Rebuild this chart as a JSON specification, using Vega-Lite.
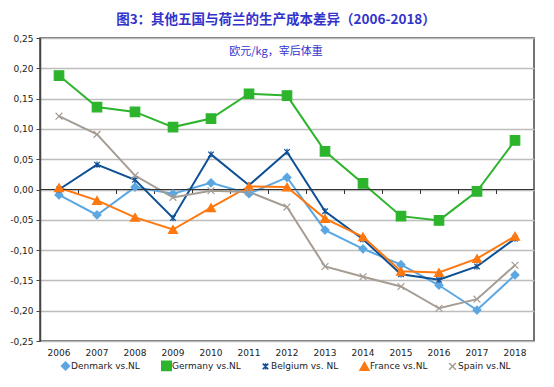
{
  "$schema": "https://vega.github.io/schema/vega-lite/v6.json",
  "autosize": {"type": "none"},
  "padding": {"left": 40, "top": 38, "right": 20, "bottom": 46},
  "width": 494,
  "height": 303,
  "background": "white",
  "title": {
    "text": "图3：其他五国与荷兰的生产成本差异（2006-2018）",
    "subtitle": "欧元/kg，宰后体重　　",
    "frame": "group",
    "anchor": "middle",
    "dx": -11,
    "offset": -23,
    "font": "Noto Sans CJK SC",
    "fontSize": 13.5,
    "fontWeight": "bold",
    "color": "#3333CC",
    "subtitleFont": "Noto Sans CJK SC",
    "subtitleFontSize": 11,
    "subtitleColor": "#3333CC",
    "subtitlePadding": 20
  },
  "data": {
    "values": [
      {"year": "2006", "series": "Denmark vs.NL", "v": -0.009},
      {"year": "2007", "series": "Denmark vs.NL", "v": -0.042},
      {"year": "2008", "series": "Denmark vs.NL", "v": 0.004},
      {"year": "2009", "series": "Denmark vs.NL", "v": -0.007},
      {"year": "2010", "series": "Denmark vs.NL", "v": 0.011},
      {"year": "2011", "series": "Denmark vs.NL", "v": -0.007},
      {"year": "2012", "series": "Denmark vs.NL", "v": 0.020},
      {"year": "2013", "series": "Denmark vs.NL", "v": -0.067},
      {"year": "2014", "series": "Denmark vs.NL", "v": -0.098},
      {"year": "2015", "series": "Denmark vs.NL", "v": -0.124},
      {"year": "2016", "series": "Denmark vs.NL", "v": -0.158},
      {"year": "2017", "series": "Denmark vs.NL", "v": -0.199},
      {"year": "2018", "series": "Denmark vs.NL", "v": -0.141},
      {"year": "2006", "series": "Germany vs.NL", "v": 0.188},
      {"year": "2007", "series": "Germany vs.NL", "v": 0.136},
      {"year": "2008", "series": "Germany vs.NL", "v": 0.128},
      {"year": "2009", "series": "Germany vs.NL", "v": 0.103},
      {"year": "2010", "series": "Germany vs.NL", "v": 0.117},
      {"year": "2011", "series": "Germany vs.NL", "v": 0.158},
      {"year": "2012", "series": "Germany vs.NL", "v": 0.155},
      {"year": "2013", "series": "Germany vs.NL", "v": 0.063},
      {"year": "2014", "series": "Germany vs.NL", "v": 0.010},
      {"year": "2015", "series": "Germany vs.NL", "v": -0.044},
      {"year": "2016", "series": "Germany vs.NL", "v": -0.051},
      {"year": "2017", "series": "Germany vs.NL", "v": -0.003},
      {"year": "2018", "series": "Germany vs.NL", "v": 0.081},
      {"year": "2006", "series": "Belgium vs. NL", "v": 0.000},
      {"year": "2007", "series": "Belgium vs. NL", "v": 0.041},
      {"year": "2008", "series": "Belgium vs. NL", "v": 0.016},
      {"year": "2009", "series": "Belgium vs. NL", "v": -0.047},
      {"year": "2010", "series": "Belgium vs. NL", "v": 0.058},
      {"year": "2011", "series": "Belgium vs. NL", "v": 0.007},
      {"year": "2012", "series": "Belgium vs. NL", "v": 0.062},
      {"year": "2013", "series": "Belgium vs. NL", "v": -0.036},
      {"year": "2014", "series": "Belgium vs. NL", "v": -0.082},
      {"year": "2015", "series": "Belgium vs. NL", "v": -0.140},
      {"year": "2016", "series": "Belgium vs. NL", "v": -0.149},
      {"year": "2017", "series": "Belgium vs. NL", "v": -0.127},
      {"year": "2018", "series": "Belgium vs. NL", "v": -0.081},
      {"year": "2006", "series": "France vs.NL", "v": 0.003},
      {"year": "2007", "series": "France vs.NL", "v": -0.018},
      {"year": "2008", "series": "France vs.NL", "v": -0.046},
      {"year": "2009", "series": "France vs.NL", "v": -0.066},
      {"year": "2010", "series": "France vs.NL", "v": -0.030},
      {"year": "2011", "series": "France vs.NL", "v": 0.005},
      {"year": "2012", "series": "France vs.NL", "v": 0.004},
      {"year": "2013", "series": "France vs.NL", "v": -0.048},
      {"year": "2014", "series": "France vs.NL", "v": -0.078},
      {"year": "2015", "series": "France vs.NL", "v": -0.135},
      {"year": "2016", "series": "France vs.NL", "v": -0.137},
      {"year": "2017", "series": "France vs.NL", "v": -0.114},
      {"year": "2018", "series": "France vs.NL", "v": -0.077},
      {"year": "2006", "series": "Spain vs.NL", "v": 0.121},
      {"year": "2007", "series": "Spain vs.NL", "v": 0.091},
      {"year": "2008", "series": "Spain vs.NL", "v": 0.023},
      {"year": "2009", "series": "Spain vs.NL", "v": -0.013},
      {"year": "2010", "series": "Spain vs.NL", "v": -0.002},
      {"year": "2011", "series": "Spain vs.NL", "v": -0.004},
      {"year": "2012", "series": "Spain vs.NL", "v": -0.029},
      {"year": "2013", "series": "Spain vs.NL", "v": -0.127},
      {"year": "2014", "series": "Spain vs.NL", "v": -0.144},
      {"year": "2015", "series": "Spain vs.NL", "v": -0.160},
      {"year": "2016", "series": "Spain vs.NL", "v": -0.196},
      {"year": "2017", "series": "Spain vs.NL", "v": -0.181},
      {"year": "2018", "series": "Spain vs.NL", "v": -0.125}
    ]
  },
  "layer": [
    {
      "mark": {"type": "line", "strokeWidth": 2},
      "encoding": {
        "x": {
          "field": "year", "type": "ordinal",
          "scale": {"type": "band", "paddingInner": 0, "paddingOuter": 0},
          "axis": {"orient": "bottom", "domain": false, "ticks": false, "labelPadding": 7, "labelAngle": 0, "title": null, "grid": false}
        },
        "y": {
          "field": "v", "type": "quantitative",
          "scale": {"domain": [-0.25, 0.25], "nice": false, "zero": false},
          "axis": {
            "values": [-0.25, -0.2, -0.15, -0.1, -0.05, 0, 0.05, 0.1, 0.15, 0.2, 0.25],
            "tickCount": 20,
            "labelOverlap": false,
            "labelExpr": "replace(replace(format(datum.value, '.2f'), '.', ','), '−', '-')",
            "grid": true, "gridColor": "#BDBDBD", "gridWidth": 1.5,
            "domainColor": "#444444", "domainWidth": 1.5,
            "tickColor": "#444444", "tickSize": 4, "labelPadding": 3, "title": null
          }
        },
        "color": {
          "field": "series", "type": "nominal",
          "scale": {
            "domain": ["Denmark vs.NL", "Germany vs.NL", "Belgium vs. NL", "France vs.NL", "Spain vs.NL"],
            "range": ["#5BA7E2", "#2DB42D", "#0D5096", "#FF780F", "#A59C94"]
          },
          "legend": {
            "orient": "none", "legendX": 20, "legendY": 322,
            "direction": "horizontal", "columns": 5, "title": null,
            "labelOffset": 0, "columnPadding": 18, "symbolSize": 256,
            "encode": {
              "symbols": {
                "update": {
                  "shape": {"signal": "datum.value === 'Denmark vs.NL' ? 'M-1,0H1M0,-0.4L0.4,0L0,0.4L-0.4,0Z' : datum.value === 'Germany vs.NL' ? 'M-1,0H1M-0.35,-0.35H0.35V0.35H-0.35Z' : datum.value === 'Belgium vs. NL' ? 'M-1,0H1M-0.3,-0.3L0.3,0.3M-0.3,0.3L0.3,-0.3M0,-0.35V0.35' : datum.value === 'France vs.NL' ? 'M-1,0H1M0,-0.42L0.42,0.32H-0.42Z' : 'M-1,0H1M-0.32,-0.32L0.32,0.32M-0.32,0.32L0.32,-0.32'"},
                  "fill": {"signal": "scale('color', datum.value)"},
                  "stroke": {"signal": "scale('color', datum.value)"},
                  "strokeWidth": {"value": 1.5},
                  "size": {"value": 256}
                }
              }
            }
          }
        }
      }
    },
    {
      "mark": {"type": "rule", "color": "#333333", "strokeWidth": 1},
      "encoding": {"y": {"datum": 0}}
    },
    {
      "mark": {"type": "point", "filled": true, "opacity": 1, "strokeWidth": 1.2},
      "encoding": {
        "x": {
          "field": "year", "type": "ordinal",
          "scale": {"type": "band", "paddingInner": 0, "paddingOuter": 0},
          "axis": {"orient": "top", "offset": -151.5, "labels": false, "domain": false, "ticks": true, "tickColor": "#333333", "tickSize": -4, "bandPosition": 0, "title": null, "grid": false}
        },
        "y": {"field": "v", "type": "quantitative"},
        "fill": {
          "field": "series", "type": "nominal",
          "scale": {
            "domain": ["Denmark vs.NL", "Germany vs.NL", "Belgium vs. NL", "France vs.NL", "Spain vs.NL"],
            "range": ["#5BA7E2", "#2DB42D", "#0D5096", "#FF780F", "#A59C94"]
          },
          "legend": null
        },
        "stroke": {
          "field": "series", "type": "nominal",
          "scale": {
            "domain": ["Denmark vs.NL", "Germany vs.NL", "Belgium vs. NL", "France vs.NL", "Spain vs.NL"],
            "range": ["#5BA7E2", "#2DB42D", "#0D5096", "#FF780F", "#A59C94"]
          },
          "legend": null
        },
        "shape": {
          "field": "series", "type": "nominal",
          "scale": {
            "domain": ["Denmark vs.NL", "Germany vs.NL", "Belgium vs. NL", "France vs.NL", "Spain vs.NL"],
            "range": ["diamond", "square", "M-0.7,-0.7L0.7,0.7M-0.7,0.7L0.7,-0.7M0,-0.8V0.8", "triangle-up", "M-0.8,-0.8L0.8,0.8M-0.8,0.8L0.8,-0.8"]
          },
          "legend": null
        },
        "size": {
          "field": "series", "type": "nominal",
          "scale": {
            "type": "ordinal",
            "domain": ["Denmark vs.NL", "Germany vs.NL", "Belgium vs. NL", "France vs.NL", "Spain vs.NL"],
            "range": [64, 90, 64, 80, 72]
          },
          "legend": null
        }
      }
    }
  ],
  "resolve": {"scale": {"x": "independent"}, "axis": {"x": "independent"}},
  "config": {
    "view": {"stroke": "#444444", "strokeWidth": 1.5},
    "axis": {"labelFont": "DejaVu Sans", "labelFontSize": 9, "labelColor": "#222222"},
    "legend": {"labelFont": "DejaVu Sans", "labelFontSize": 9, "labelColor": "#222222"}
  }
}
